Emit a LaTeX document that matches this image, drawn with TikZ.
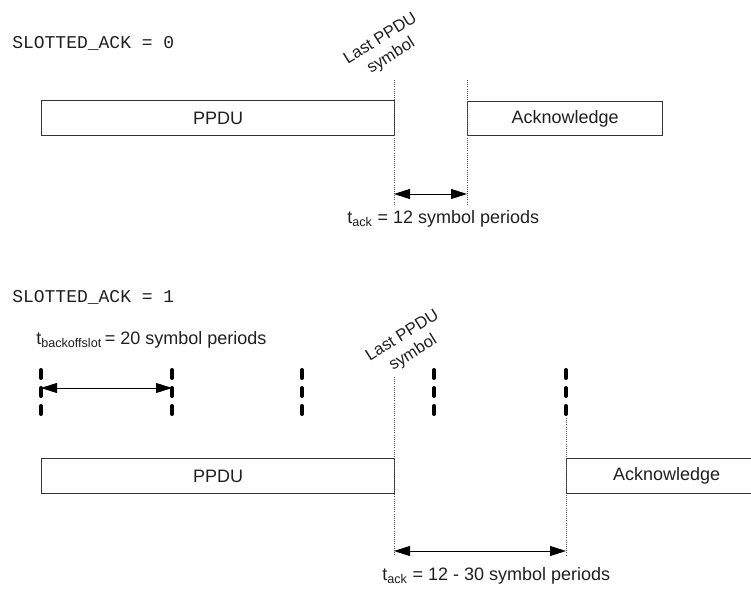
\documentclass[tikz,border=0pt]{standalone}
\usepackage{fontspec}
\setmainfont{Liberation Sans}
\newfontfamily\codefont{Liberation Mono}
\usepackage{tikz}
\usetikzlibrary{arrows.meta,positioning}
\definecolor{ink}{HTML}{1F1F1F}
\definecolor{frameline}{HTML}{333333}
\definecolor{guide}{HTML}{555555}
\tikzset{
  frame/.style={draw=frameline,line width=0.8pt,anchor=north west,
                inner sep=0pt,font=\fontsize{13.5}{15}\selectfont,text=ink},
  label/.style={anchor=west,inner sep=0pt,font=\fontsize{13.5}{15}\selectfont,text=ink},
  codelabel/.style={anchor=west,inner sep=0pt,font=\codefont\fontsize{13.5}{15}\selectfont,text=ink},
  marker/.style={rotate=32,align=center,inner sep=0pt,
                 font=\fontsize{12.5}{15}\selectfont,text=ink},
  guideline/.style={guide,line width=0.6pt,densely dotted},
  slotmark/.style={black,line width=3pt,line cap=round,
                   dash pattern=on 6pt off 7.5pt},
  span/.style={{Triangle[length=12pt,width=7.5pt]}-{Triangle[length=12pt,width=7.5pt]},
               line width=0.7pt,black},
}

\begin{document}
\begin{tikzpicture}[x=0.75pt,y=-0.75pt]
  \useasboundingbox (0,0) rectangle (751,592);
  % ---- SLOTTED_ACK = 0 ----
  \node[codelabel] (modeA) at (12,43) {SLOTTED\_ACK = 0};
  \node[frame,minimum width=264.75pt,minimum height=26.25pt] (ppduA) at (41,100) {PPDU};
  \node[frame,minimum width=146.25pt,minimum height=25.5pt] (ackA) at (467,101) {Acknowledge};
  \node[marker] (lastA) at (386,48) {Last PPDU\\symbol};
  % Guides
  \coordinate (endAtop) at (394,80);
  \coordinate (endAbot) at (394,205);
  \coordinate (ackAtop) at (467,80);
  \coordinate (ackAbot) at (467,205);
  \draw[guideline] (endAtop) -- (endAbot);
  \draw[guideline] (ackAtop) -- (ackAbot);
  % Turnaround
  \coordinate (tA1) at (394,194);
  \coordinate (tA2) at (467,194);
  \draw[span] (tA1) -- (tA2);
  \node[label] (tackA) at (347,219) {t\textsubscript{ack} = 12 symbol periods};

  % ---- SLOTTED_ACK = 1 ----
  \node[codelabel] (modeB) at (12,297) {SLOTTED\_ACK = 1};
  \node[label] (slotlen) at (36,340) {t\textsubscript{backoffslot}\,= 20 symbol periods};
  % Backoff slot boundaries
  \foreach \x [count=\i] in {41,172,302,434,566}{
    \coordinate (slottop-\i) at (\x,370);
    \coordinate (slotbot-\i) at (\x,418);
    \draw[slotmark] (slottop-\i) -- (slotbot-\i);
  }
  \coordinate (bk1) at (41,388);
  \coordinate (bk2) at (172,388);
  \draw[span] (bk1) -- (bk2);
  \node[frame,minimum width=264.75pt,minimum height=26.25pt] (ppduB) at (41,458) {PPDU};
  \node[frame,minimum width=150pt,minimum height=26.25pt,text width=138.75pt,align=center] (ackB) at (566,458) {Acknowledge};
  \node[marker] (lastB) at (408,345) {Last PPDU\\symbol};
  % Guides
  \coordinate (endBtop) at (394,377);
  \coordinate (endBbot) at (394,556);
  \coordinate (ackBbot) at (566,556);
  \draw[guideline] (endBtop) -- (endBbot);
  \draw[guideline] (slotbot-5) -- (ackBbot);
  % Turnaround
  \coordinate (tB1) at (394,551);
  \coordinate (tB2) at (566,551);
  \draw[span] (tB1) -- (tB2);
  \node[label] (tackB) at (382,576) {t\textsubscript{ack} = 12 - 30 symbol periods};
\end{tikzpicture}
\end{document}
